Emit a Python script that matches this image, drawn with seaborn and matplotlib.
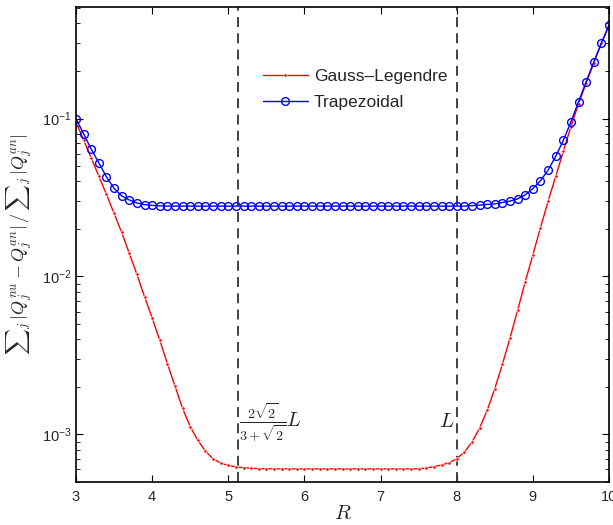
import numpy as np
import pandas as pd
import matplotlib
matplotlib.use("Agg")
import matplotlib.pyplot as plt
import seaborn as sns

# sample grid: R from 3 to 10 in steps of 0.1
R = np.round(np.linspace(3.0, 10.0, 71), 1)

gauss_legendre = [
    0.0945, 0.0733, 0.0562, 0.0432, 0.0331, 0.0251, 0.0190, 0.0140, 0.0103, 0.00745,
    0.00546, 0.00395, 0.00281, 0.00202, 0.00146, 0.00112, 0.000916, 0.000783, 0.000701, 0.000658,
    0.000636, 0.000623, 0.000615, 0.000611, 0.000608, 0.000606, 0.000605, 0.000605, 0.000605, 0.000605,
    0.000605, 0.000605, 0.000605, 0.000605, 0.000605, 0.000605, 0.000605, 0.000605, 0.000605, 0.000605,
    0.000605, 0.000605, 0.000605, 0.000605, 0.000605, 0.000607, 0.000612, 0.000625, 0.000640, 0.000662,
    0.000701, 0.000773, 0.000894, 0.001096, 0.00142, 0.00195, 0.00278, 0.00408, 0.00612, 0.00927,
    0.0137, 0.0204, 0.0299, 0.0430, 0.0620, 0.089, 0.124, 0.168, 0.225, 0.299,
    0.389,
]

trapezoidal = [
    0.100, 0.080, 0.064, 0.0524, 0.0427, 0.0361, 0.0324, 0.0305, 0.0292, 0.0285,
    0.0282, 0.0280, 0.0279, 0.0279, 0.0279, 0.0279, 0.0279, 0.0279, 0.0279, 0.0279,
    0.0279, 0.0279, 0.0279, 0.0279, 0.0279, 0.0279, 0.0279, 0.0279, 0.0279, 0.0279,
    0.0279, 0.0279, 0.0279, 0.0279, 0.0279, 0.0279, 0.0279, 0.0279, 0.0279, 0.0279,
    0.0279, 0.0279, 0.0279, 0.0279, 0.0279, 0.0279, 0.0279, 0.0279, 0.0279, 0.0279,
    0.0279, 0.0279, 0.0281, 0.0283, 0.0286, 0.0288, 0.0294, 0.0300, 0.0310, 0.0329,
    0.0360, 0.0404, 0.0472, 0.0576, 0.0728, 0.0953, 0.128, 0.171, 0.228, 0.301,
    0.391,
]

L = 8.0
r_inner = 2 * np.sqrt(2) / (3 + np.sqrt(2)) * L
x_ticks = [3, 4, 5, 6, 7, 8, 9, 10]

df = pd.DataFrame({"R": R, "gl": gauss_legendre, "tr": trapezoidal})

sns.set_theme(style="ticks")
plt.rcParams["font.family"] = ["Liberation Sans", "DejaVu Sans"]
plt.rcParams["mathtext.fontset"] = "custom"
plt.rcParams["mathtext.rm"] = "Liberation Sans"
plt.rcParams["mathtext.it"] = "Liberation Sans:italic"
plt.rcParams["mathtext.bf"] = "Liberation Sans:bold"

fig = plt.figure(figsize=(6.13, 5.25), dpi=100)
ax = fig.add_axes([0.124, 0.082, 0.8695, 0.905])

sns.lineplot(data=df, x="R", y="gl", ax=ax, color="red", lw=1.0,
             marker=".", markersize=5, markeredgewidth=0.6,
             label="Gauss\u2013Legendre")
sns.lineplot(data=df, x="R", y="tr", ax=ax, color="blue", lw=1.0,
             marker="o", markersize=5.6, markerfacecolor="none",
             markeredgecolor="blue", markeredgewidth=1.0,
             label="Trapezoidal")

ax.set_yscale("log")
ax.set_xlim(3, 10)
ax.set_ylim(5e-4, 0.51)
ax.set_xticks(x_ticks)
ax.set_xticklabels([str(t) for t in x_ticks])

for xv in (r_inner, L):
    ax.axvline(xv, color="#333333", lw=1.3, linestyle=(0, (5.5, 3.5)), zorder=1)

ax.text(r_inner + 0.02, 1.2e-3, r"$\frac{2\sqrt{2}}{3+\sqrt{2}}L$",
        fontsize=14.5, ha="left", va="center", math_fontfamily="cm")
ax.text(L - 0.03, 1.2e-3, r"$L$", fontsize=15, ha="right", va="center",
        math_fontfamily="cm")

ax.set_xlabel(r"$R$", fontsize=15, labelpad=0, math_fontfamily="cm")
ax.set_ylabel(r"${\sum}_j\,|Q_j^{nu}-Q_j^{an}|\,/\,{\sum}_j\,|Q_j^{an}|$",
              fontsize=13, labelpad=6, math_fontfamily="cm")

ax.tick_params(which="both", direction="in", top=True, right=True,
               labelsize=10.5, color="black")
ax.tick_params(which="major", length=5, width=0.8)
ax.tick_params(which="minor", length=3, width=0.6)
ax.tick_params(axis="x", pad=6)
ax.tick_params(axis="y", pad=3)
for s in ax.spines.values():
    s.set_linewidth(1.2)
    s.set_color("black")

ax.legend(loc="upper left", bbox_to_anchor=(0.35, 0.87), frameon=False,
          fontsize=12.5, handlelength=2.6, handletextpad=0.35, borderpad=0,
          borderaxespad=0, labelspacing=0.65, numpoints=1)

fig.savefig("out.png", dpi=100)
